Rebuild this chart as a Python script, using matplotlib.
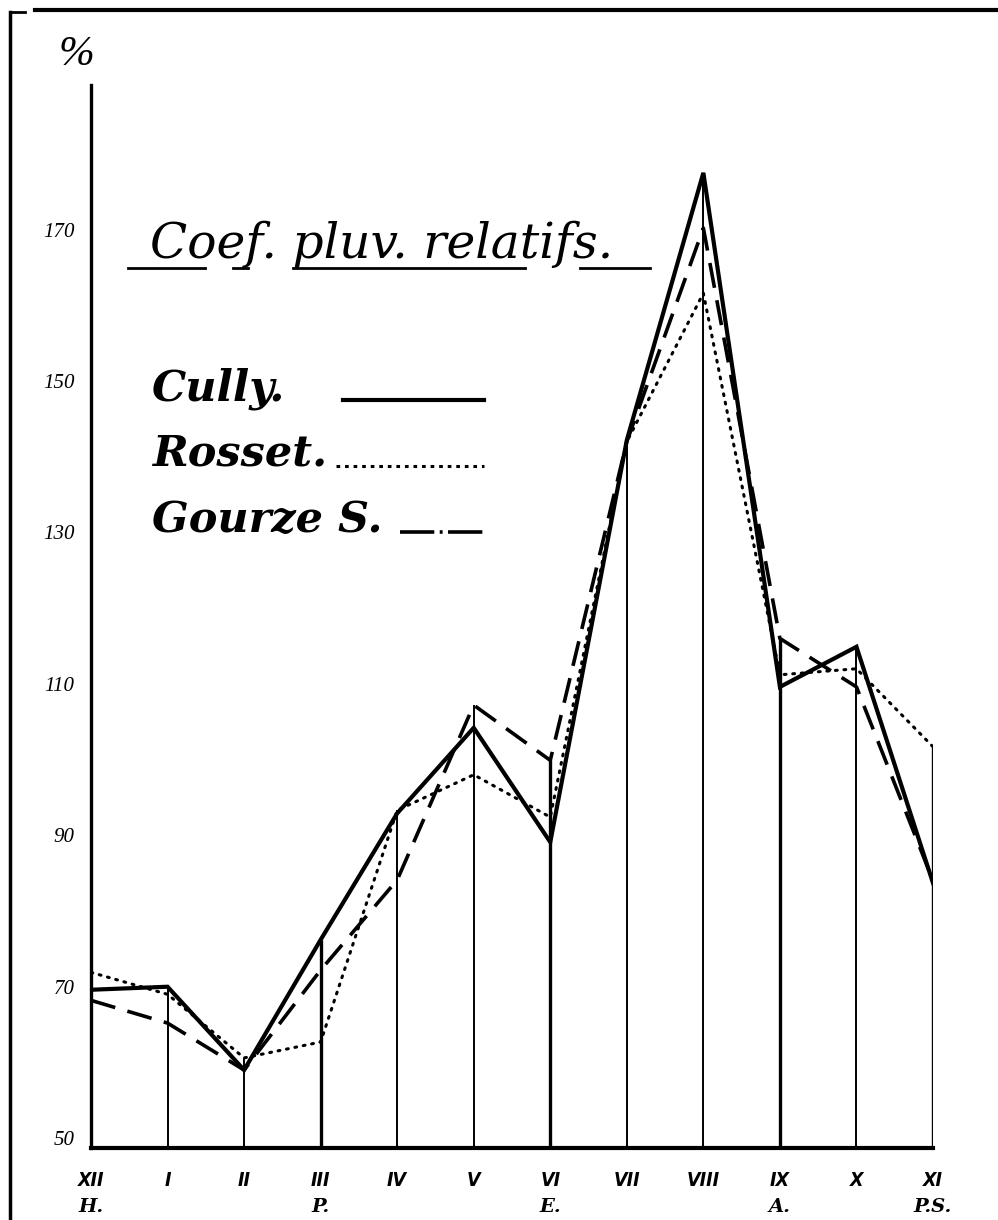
import matplotlib
matplotlib.use("Agg")
import matplotlib.pyplot as plt
from matplotlib.lines import Line2D

# ---- data ----
months = ["XII", "I", "II", "III", "IV", "V", "VI", "VII", "VIII", "IX", "X", "XI"]
seasons = ["H.", "", "", "P.", "", "", "E.", "", "", "A.", "", "P.S."]
cully = [69.6, 70.0, 59.0, 76.2, 92.9, 104.2, 89.1, 142.2, 177.5, 109.6, 114.9, 83.7]
rosset = [71.9, 69.0, 60.6, 62.7, 93.3, 98.0, 92.4, 142.0, 161.6, 111.2, 112.0, 101.7]
gourze = [68.2, 65.2, 59.0, 72.2, 84.1, 107.2, 99.9, 142.0, 170.2, 116.0, 109.6, 84.0]
yticks = [50, 70, 90, 110, 130, 150, 170]
title = "Coef. pluv. relatifs."
names = ["Cully.", "Rosset.", "Gourze S."]

W, H = 998, 1220
fig = plt.figure(figsize=(W / 100, H / 100), dpi=100)
fig.patch.set_facecolor("white")

def fx(px):
    return px / W

def fy(py):
    return (H - py) / H

ax = fig.add_axes([fx(91), fy(1148), fx(933) - fx(91), fy(85) - fy(1148)])
ax.set_xlim(0, 11)
ax.set_ylim(48.7, 189.1)
ax.set_facecolor("none")
for s in ["top", "right"]:
    ax.spines[s].set_visible(False)
ax.spines["left"].set_linewidth(2.4)
ax.spines["bottom"].set_linewidth(3.0)

x = list(range(len(months)))

# vertical month lines up to the highest value
for i in x[1:]:
    top = max(cully[i], rosset[i], gourze[i])
    lw = 2.4 if seasons[i] else 1.4
    ax.plot([i, i], [48.7, top], color="black", lw=lw, solid_capstyle="butt", zorder=1)

ax.plot(x, cully, color="black", lw=3.0, solid_joinstyle="miter", zorder=3)
ax.plot(x, rosset, color="black", lw=2.2, linestyle=(0, (0.6, 2.2)),
        dash_capstyle="round", zorder=3)
ax.plot(x, gourze, color="black", lw=2.6, linestyle=(0, (7, 3.5)), zorder=3)

# ticks
ax.set_yticks(yticks)
ax.set_yticklabels([str(v) for v in yticks], fontfamily="Liberation Serif",
                   fontstyle="italic", fontsize=15)
ax.tick_params(axis="y", length=0, pad=12)
ax.set_xticks(x)
ax.set_xticklabels([])
ax.tick_params(axis="x", length=0)
for i in x:
    ax.text(i, -0.022, months[i], transform=ax.get_xaxis_transform(),
            ha="center", va="top", fontsize=14, fontweight="bold",
            fontstyle="italic", fontfamily="DejaVu Sans", stretch="condensed")
    if seasons[i]:
        ax.text(i, -0.047, seasons[i], transform=ax.get_xaxis_transform(),
                ha="center", va="top", fontsize=14, fontweight="bold",
                fontstyle="italic", fontfamily="DejaVu Serif")

# percent sign
fig.text(fx(76), fy(55), "%", ha="center", va="center", fontsize=31,
         fontstyle="italic", fontfamily="Liberation Serif")

# title with underline pieces
fig.text(fx(382), fy(258), title, ha="center", va="baseline", fontsize=35,
         fontstyle="italic", fontfamily="DejaVu Serif")
for a, b in [(128, 205), (233, 248), (293, 525), (580, 650)]:
    fig.add_artist(Line2D([fx(a), fx(b)], [fy(268), fy(268)], color="black", lw=2.0))

# legend
styles = [dict(lw=3.0, linestyle="-"),
          dict(lw=2.2, linestyle=(0, (1.2, 1.6))),
          dict(lw=2.6, linestyle=(0, (9.5, 1.5, 0.8, 1.5, 9.5, 30)))]
rows = [(400, 343), (466, 336), (532, 400)]
for (base, x0), name, st in zip(rows, names, styles):
    fig.text(fx(152), fy(base), name, ha="left", va="baseline", fontsize=31,
             fontstyle="italic", fontweight="bold", fontfamily="DejaVu Serif")
    fig.add_artist(Line2D([fx(x0), fx(484)], [fy(base), fy(base)], color="black", **st))

# page frame
fig.add_artist(Line2D([fx(35), fx(998)], [fy(10), fy(10)], color="black", lw=3.0))
fig.add_artist(Line2D([fx(10), fx(25)], [fy(12), fy(12)], color="black", lw=2.0))
fig.add_artist(Line2D([fx(10), fx(10)], [fy(12), fy(1220)], color="black", lw=2.5))

fig.savefig("out.png", dpi=100)
